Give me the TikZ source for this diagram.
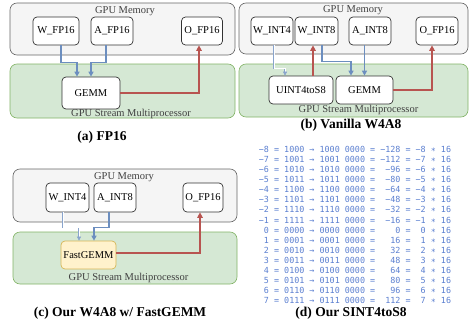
\documentclass[tikz,border=0pt]{standalone}
\usepackage{fontspec}
\setmainfont{Liberation Serif}
\newfontfamily\codefont{DejaVu Sans Mono}
\definecolor{MEMfill}{HTML}{F5F5F5}
\definecolor{MEMdraw}{HTML}{666666}
\definecolor{SMfill}{HTML}{D5E8D4}
\definecolor{SMdraw}{HTML}{82B366}
\definecolor{FGfill}{HTML}{FFF2CC}
\definecolor{FGdraw}{HTML}{D6B656}
\definecolor{LDblue}{HTML}{6C8EBF}
\definecolor{STred}{HTML}{B85450}
\definecolor{CODEblue}{HTML}{5B7FD0}
\usetikzlibrary{arrows.meta, calc, positioning}

\tikzset{
  membox/.style={draw=MEMdraw, fill=MEMfill, rounded corners=7pt, line width=0.6pt},
  smbox/.style={draw=SMdraw, fill=SMfill, rounded corners=7pt, line width=0.6pt},
  unit/.style={draw=black!80, fill=white, rounded corners=4pt, line width=0.7pt,
    inner sep=0pt, font=\fontsize{10.5}{12}\selectfont},
  fastunit/.style={unit, draw=FGdraw, fill=FGfill},
  boxlabel/.style={font=\fontsize{10.5}{12}\selectfont, text=black!75},
  caption/.style={font=\fontsize{13.5}{15}\selectfont\bfseries},
  load/.style={-{Triangle[length=5pt,width=5pt]}, LDblue, line width=1.25pt},
  loadint/.style={-{Triangle[length=4pt,width=4pt]}, LDblue!80, double=white,
    double distance=0.7pt, line width=0.5pt},
  store/.style={-{Triangle[length=5.5pt,width=5.5pt]}, STred, line width=1.25pt},
}

\begin{document}
\begin{tikzpicture}[x=1pt, y=-1pt]
  \useasboundingbox (0,0) rectangle (476,324);

  % (a) FP16
  \node[membox, minimum width=225pt, minimum height=52pt] (memA) at (122.5,29) {};
  \node[smbox, minimum width=225pt, minimum height=54pt] (smA) at (122.5,91) {};
  \node[boxlabel] at (125,11) {GPU Memory};
  \node[unit, minimum width=46pt, minimum height=28pt] (wfpA) at (56,31) {W\_FP16};
  \node[unit, minimum width=42pt, minimum height=28pt] (afpA) at (112,31) {A\_FP16};
  \node[unit, minimum width=41pt, minimum height=28pt] (ofpA) at (202,31) {O\_FP16};
  \node[unit, minimum width=58pt, minimum height=32pt] (gemmA) at (91,93) {GEMM};
  \node[boxlabel] at (131,114) {GPU Stream Multiprocessor};
  \draw[load] ([xshift=5pt]wfpA.south) -- ++(0,17) -| ([xshift=-14pt]gemmA.north);
  \draw[load] ([xshift=-6pt]afpA.south) -- ++(0,17) -| (gemmA.north);
  \draw[store] (gemmA.east) -| ([xshift=-3pt]ofpA.south);
  \node[caption] at (102,137) {(a) FP16};

  % (b) Vanilla W4A8
  \node[membox, minimum width=229pt, minimum height=51pt] (memB) at (353.5,28.5) {};
  \node[smbox, minimum width=229pt, minimum height=53pt] (smB) at (353.5,90.5) {};
  \node[boxlabel] at (353,10) {GPU Memory};
  \node[unit, minimum width=42pt, minimum height=28pt] (wi4B) at (272,31) {W\_INT4};
  \node[unit, minimum width=43pt, minimum height=28pt] (wi8B) at (316.5,31) {W\_INT8};
  \node[unit, minimum width=42pt, minimum height=28pt] (ai8B) at (370,31) {A\_INT8};
  \node[unit, minimum width=42pt, minimum height=28pt] (ofpB) at (437,31) {O\_FP16};
  \node[unit, minimum width=64pt, minimum height=28pt] (cvtB) at (301,90) {UINT4toS8};
  \node[unit, minimum width=57pt, minimum height=28pt] (gemmB) at (364.5,90) {GEMM};
  \node[boxlabel] at (358.5,110) {GPU Stream Multiprocessor};
  \draw[loadint] ([xshift=2pt]wi4B.south) -- ++(0,23) -| ([xshift=-16pt]cvtB.north);
  \draw[store] ([xshift=12pt]cvtB.north) -- ([xshift=12pt]cvtB.north |- wi8B.south);
  \draw[load] ([xshift=5.5pt]wi8B.south) -- ++(0,16) -| ([xshift=-13.5pt]gemmB.north);
  \draw[load] (ai8B.south -| gemmB.north) -- (gemmB.north);
  \draw[store] (gemmB.east) -| ([xshift=-5pt]ofpB.south);
  \node[caption] at (351,125) {(b) Vanilla W4A8};

  % (c) Our W4A8 w/ FastGEMM
  \node[membox, minimum width=224pt, minimum height=53pt] (memC) at (125,195.5) {};
  \node[smbox, minimum width=224pt, minimum height=52pt] (smC) at (125,258) {};
  \node[boxlabel] at (124,177) {GPU Memory};
  \node[unit, minimum width=43pt, minimum height=29pt] (wi4C) at (67.5,197.5) {W\_INT4};
  \node[unit, minimum width=42pt, minimum height=29pt] (ai8C) at (115,197.5) {A\_INT8};
  \node[unit, minimum width=40pt, minimum height=29pt] (ofpC) at (203,197.5) {O\_FP16};
  \node[fastunit, minimum width=55pt, minimum height=28pt] (fgC) at (88.5,255) {FastGEMM};
  \node[boxlabel] at (128.5,278) {GPU Stream Multiprocessor};
  \draw[loadint] ([xshift=-4.5pt]wi4C.south) -- ++(0,15) -| ([xshift=-9.5pt]fgC.north);
  \draw[load] ([xshift=-6pt]ai8C.south) -- ++(0,15) -| ([xshift=5.5pt]fgC.north);
  \draw[store] ([yshift=2pt]fgC.east) -| ([xshift=-3pt]ofpC.south);
  \node[caption] at (120,313) {(c) Our W4A8 w/ FastGEMM};

  % (d) Our SINT4toS8
  \node[align=left, text=CODEblue, inner sep=0pt,
    font=\codefont\fontsize{8.4}{10.1}\selectfont] (tbl) at (355,225) {%
−8 = 1000 → 1000 0000 = −128 = −8 ∗ 16\\
−7 = 1001 → 1001 0000 = −112 = −7 ∗ 16\\
−6 = 1010 → 1010 0000 = ~−96 = −6 ∗ 16\\
−5 = 1011 → 1011 0000 = ~−80 = −5 ∗ 16\\
−4 = 1100 → 1100 0000 = ~−64 = −4 ∗ 16\\
−3 = 1101 → 1101 0000 = ~−48 = −3 ∗ 16\\
−2 = 1110 → 1110 0000 = ~−32 = −2 ∗ 16\\
−1 = 1111 → 1111 0000 = ~−16 = −1 ∗ 16\\
~0 = 0000 → 0000 0000 = ~~~0 = ~0 ∗ 16\\
~1 = 0001 → 0001 0000 = ~~16 = ~1 ∗ 16\\
~2 = 0010 → 0010 0000 = ~~32 = ~2 ∗ 16\\
~3 = 0011 → 0011 0000 = ~~48 = ~3 ∗ 16\\
~4 = 0100 → 0100 0000 = ~~64 = ~4 ∗ 16\\
~5 = 0101 → 0101 0000 = ~~80 = ~5 ∗ 16\\
~6 = 0110 → 0110 0000 = ~~96 = ~6 ∗ 16\\
~7 = 0111 → 0111 0000 = ~112 = ~7 ∗ 16};
  \node[caption] at (351,313) {(d) Our SINT4toS8};
\end{tikzpicture}
\end{document}
